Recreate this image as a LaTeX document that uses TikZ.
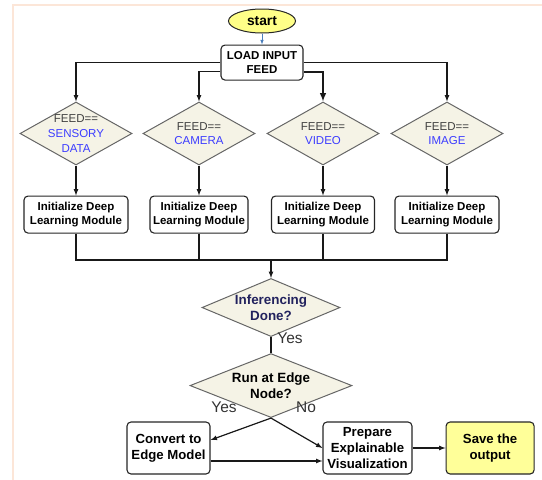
\documentclass[tikz,border=0pt]{standalone}
\usepackage{fontspec}
\setmainfont{Liberation Sans}
\usetikzlibrary{shapes,positioning,calc}
\definecolor{framepeach}{HTML}{FCE6D8}
\definecolor{feedfill}{HTML}{F5F3E6}
\definecolor{feedblue}{HTML}{3C3CFF}
\definecolor{infernavy}{HTML}{22225E}
\definecolor{startyellow}{HTML}{FFFF88}
\definecolor{saveyellow}{HTML}{FFFF99}
\definecolor{startblue}{HTML}{4A7EBB}

\begin{document}
\begin{tikzpicture}[x=1pt, y=-1pt,
  box/.style={rectangle, rounded corners=4pt, draw=black!85, line width=1.1pt, fill=white, align=center, inner xsep=3pt, inner ysep=2pt, font=\fontsize{11.5}{14.5}\selectfont\bfseries},
  bigbox/.style={box, minimum height=52pt, font=\fontsize{13.2}{15.8}\selectfont\bfseries},
  feed/.style={diamond, draw=black!60, line width=1pt, fill=feedfill, align=center, inner sep=-10pt, minimum width=112pt, minimum height=63pt, text=black!75, font=\fontsize{11.5}{14.8}\selectfont},
  check/.style={feed, font=\fontsize{13.4}{16}\selectfont\bfseries},
  lbl/.style={text=black!80, font=\fontsize{15.5}{17}\selectfont},
  flow/.style={-latex, line width=1.2pt, draw=black!90}]
  \useasboundingbox (0,0) rectangle (542,480);
  % MARCO
  \draw[framepeach, line width=2pt] (13,480) -- (13,5) -- (542,5);

  \node [ellipse, draw=black!85, line width=1pt, fill=startyellow, minimum width=67pt, minimum height=24pt, inner sep=0pt, font=\fontsize{13.8}{16}\selectfont\bfseries] (start) at (262,21) {start};
  \node [box, below=11pt of start, minimum width=82pt, minimum height=35pt] (load) {LOAD INPUT\\FEED};

  \node [feed] (sensory) at (76,133.5) {FEED==\\\textcolor{feedblue}{SENSORY}\\\textcolor{feedblue}{DATA}};
  \node [feed] (camera)  at (199,133.5) {FEED==\\\textcolor{feedblue}{CAMERA}};
  \node [feed] (video)   at (323,133.5) {FEED==\\\textcolor{feedblue}{VIDEO}};
  \node [feed] (image)   at (447,133.5) {FEED==\\\textcolor{feedblue}{IMAGE}};

  \node [box, below=30pt of sensory, minimum width=104pt, minimum height=37pt] (initsensory) {Initialize Deep\\Learning Module};
  \node [box, below=30pt of camera,  minimum width=98pt,  minimum height=37pt] (initcamera)  {Initialize Deep\\Learning Module};
  \node [box, below=30pt of video,   minimum width=103pt, minimum height=37pt] (initvideo)   {Initialize Deep\\Learning Module};
  \node [box, below=30pt of image,   minimum width=104pt, minimum height=37pt] (initimage)   {Initialize Deep\\Learning Module};

  \coordinate (join) at (271,260);
  \node [check, below=18pt of join, minimum width=138pt, minimum height=51pt, text=infernavy] (infer) {Inferencing\\Done?};
  \node [check, below=16pt of infer, minimum width=162pt, minimum height=58pt, text=black] (edge) {Run at Edge\\Node?};

  \node [bigbox, minimum width=83pt] (convert) at (168.5,448) {Convert to\\Edge Model};
  \node [bigbox, minimum width=89pt] (prepare) at (367.5,448) {Prepare\\Explainable\\Visualization};
  \node [bigbox, right=33pt of prepare, minimum width=88pt, fill=saveyellow] (save) {Save the\\output};

  \node [lbl] (yesinfer) at (290,338) {Yes};
  \node [lbl] (yesedge)  at (224,407) {Yes};
  \node [lbl] (noedge)   at (306,407) {No};

  % ENTRADA
  \draw[-latex, startblue, line width=0.6pt] (start) -- (load);
  \draw[flow] (load.west) -| (sensory.north);
  \draw[flow] ($(load.west)+(0,9)$) -| (camera.north);
  \draw[flow, line width=1.9pt] ($(load.east)+(0,9)$) -| (video.north);
  \draw[flow] (load.east) -| (image.north);

  % MODULOS
  \foreach \f in {sensory,camera,video,image}
    \draw[flow] (\f.south) -- (init\f.north);
  \foreach \f in {sensory,camera,video,image}
    \draw[line width=1.2pt, draw=black!90] (init\f.south) |- (join);
  \draw[flow] (join) -- (infer.north);

  % DECISION
  \draw[line width=1.2pt, draw=black!90] (infer.south) -- (edge.north);
  \draw[flow] (edge.south) -- ($(convert.east)+(0,-8)$);
  \draw[flow] (edge.south) -- (prepare.west);
  \draw[flow] ($(convert.east)+(0,13)$) -- ($(prepare.west)+(0,13)$);
  \draw[flow] (prepare) -- (save);
\end{tikzpicture}
\end{document}
